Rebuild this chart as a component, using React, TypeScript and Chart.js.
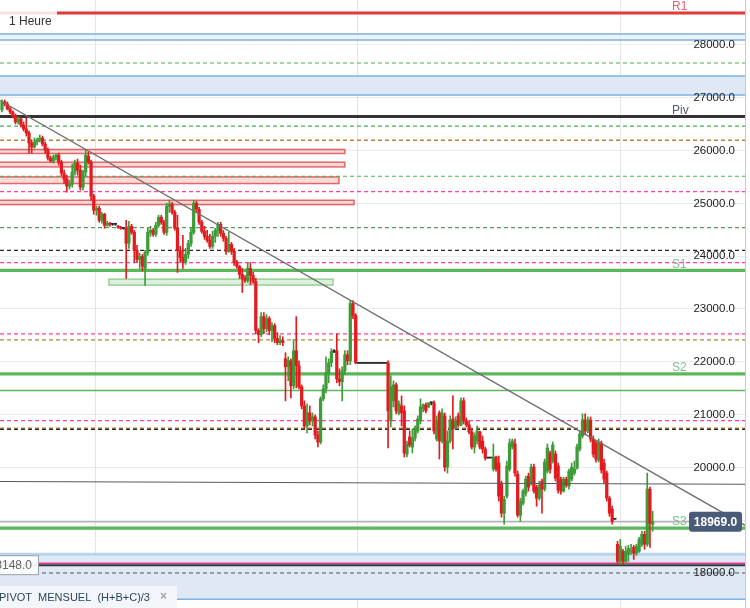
import React, { useEffect, useRef } from 'react';
import { Chart, registerables } from 'chart.js';
Chart.register(...registerables);

// ---- candle data (hourly) ----
const opens = [
  26770, 26922, 26884, 26789, 26732, 26656, 26542, 26599, 26485, 26409,
  26333, 26143, 26067, 26162, 26200, 26238, 26124, 26010, 25858, 25801,
  25877, 25915, 25782, 25573, 25459, 25326, 25364, 25592, 25763, 25630,
  25307, 25592, 25896, 25782, 25136, 24870, 24908, 24680, 24794, 24585,
  24623, 24604, 24604, 24566, 24547, 24528, 24528, 24243, 24566, 24452,
  24110, 23939, 23996, 23768, 24072, 24452, 24490, 24414, 24585, 24737,
  24642, 24452, 24946, 24984, 24832, 24528, 24110, 23977, 23882, 24034,
  24243, 24452, 25003, 24889, 24642, 24471, 24376, 24300, 24186, 24376,
  24490, 24604, 24433, 24338, 24091, 24224, 24091, 23882, 23806, 23654,
  23578, 23540, 23768, 23635, 23521, 22590, 22514, 22856, 22628, 22818,
  22590, 22685, 22438, 22362, 22400, 22058, 21906, 22020, 21545, 22210,
  21925, 21526, 21165, 20785, 21032, 20880, 20956, 20614, 20481, 21298,
  21488, 21792, 21982, 22191, 22210, 21678, 21621, 21830, 22134, 22020,
  23103, 22875, 21970, 21970, 21970, 21970, 21970, 21970, 21970, 21970,
  21970, 21970, 21970, 21982, 20880, 21260, 21564, 21032, 21165, 21070,
  20253, 20576, 20386, 20557, 20690, 20880, 21108, 21184, 21146, 21222,
  21222, 20538, 21032, 20500, 20975, 20006, 20500, 20918, 20747, 20975,
  20804, 21260, 20880, 20804, 20671, 20386, 20500, 20671, 20500, 20348,
  20177, 20177, 19968, 20196, 20082, 19702, 19132, 19455, 19968, 20386,
  20443, 19873, 19094, 19322, 19512, 19835, 19702, 20006, 19626, 19417,
  19740, 19588, 19930, 20272, 20120, 20253, 20025, 19778, 19550, 19778,
  19645, 19778, 19892, 19987, 20348, 20595, 20899, 20690, 20899, 20538,
  20462, 20139, 20462, 20082, 19892, 19417, 19208, 19018, 18543, 18220,
  18410, 18220, 18353, 18410, 18486, 18372, 18410, 18543, 18733, 18543,
  19588, 18923,
];
const highs = [
  26960, 26960, 26922, 26827, 26751, 26694, 26637, 26618, 26542, 26618,
  26371, 26200, 26238, 26238, 26295, 26276, 26162, 26048, 25896, 25915,
  25934, 25953, 25820, 25630, 25535, 25440, 25744, 25820, 25839, 25725,
  25630, 26010, 25972, 25820, 25174, 24946, 24946, 24832, 24813, 24661,
  24642, 24623, 24623, 24585, 24566, 24547, 24680, 24661, 24604, 24490,
  24205, 24053, 24034, 24110, 24528, 24566, 24528, 24642, 24775, 24775,
  24680, 25003, 25060, 25022, 24870, 24775, 24186, 24395, 24148, 24300,
  24528, 25060, 25041, 24927, 24680, 24566, 24490, 24414, 24471, 24528,
  24642, 24642, 24490, 24376, 24452, 24262, 24148, 23920, 23825, 23768,
  23635, 23882, 23882, 23692, 23578, 22628, 22932, 22932, 22894, 22856,
  22742, 22723, 22552, 22495, 22476, 22172, 22096, 22058, 22419, 22856,
  22020, 21564, 21260, 21203, 21165, 21032, 20994, 20690, 21336, 21564,
  22096, 22058, 22248, 22229, 22533, 21868, 21906, 22210, 22210, 23160,
  23160, 22913, 21970, 21970, 21970, 21970, 21970, 21970, 21970, 21970,
  21970, 21970, 21970, 22020, 21735, 21640, 21602, 21260, 21355, 21165,
  20500, 20690, 20728, 20785, 20975, 21298, 21203, 21222, 21222, 21241,
  21260, 20975, 21070, 21108, 21032, 20690, 20975, 21355, 20956, 21032,
  21317, 21317, 20937, 20880, 20728, 20652, 20785, 20690, 20595, 20386,
  20177, 20177, 20443, 20215, 20215, 19740, 19455, 20120, 20538, 20538,
  20538, 19930, 19417, 19588, 19835, 19892, 20063, 20063, 19664, 19740,
  19778, 20158, 20443, 20310, 20481, 20310, 20082, 19816, 19816, 19816,
  19968, 20082, 20120, 20443, 20690, 21013, 21013, 20956, 20956, 20595,
  20500, 20538, 20500, 20158, 19930, 19455, 19265, 19018, 18600, 18638,
  18448, 18505, 18524, 18543, 18524, 18543, 18676, 18790, 18790, 19892,
  19626, 19170,
];
const lows = [
  26732, 26846, 26770, 26694, 26618, 26504, 26504, 26447, 26371, 26276,
  25953, 25953, 26048, 26105, 26162, 26086, 25953, 25820, 25782, 25763,
  25820, 25725, 25516, 25383, 25212, 25269, 25307, 25535, 25535, 25250,
  25250, 25516, 25744, 25060, 24794, 24775, 24642, 24623, 24528, 24566,
  24566, 24585, 24585, 24528, 24509, 24509, 23578, 24148, 24414, 23882,
  23882, 23768, 23730, 23445, 24015, 24376, 24376, 24376, 24547, 24604,
  24414, 24395, 24832, 24794, 24490, 23692, 23882, 23768, 23844, 23958,
  24186, 24414, 24832, 24604, 24433, 24319, 24262, 24148, 24148, 24262,
  24376, 24376, 24281, 24034, 24072, 24034, 23825, 23768, 23578, 23312,
  23502, 23502, 23464, 23483, 22533, 22362, 22476, 22533, 22571, 22514,
  22381, 22362, 22324, 22324, 22305, 21260, 21640, 21317, 21488, 21507,
  21488, 21108, 20728, 20652, 20804, 20785, 20538, 20386, 20443, 21260,
  21412, 21602, 21906, 22172, 21602, 21545, 21260, 21754, 21944, 21944,
  22818, 21963, 21970, 21970, 21970, 21970, 21970, 21970, 21970, 21970,
  21970, 21970, 21970, 20367, 20766, 21146, 21013, 20994, 20785, 20196,
  20196, 20386, 20272, 20500, 20652, 20823, 21051, 21032, 21127, 21184,
  20633, 20500, 20158, 20462, 19930, 19892, 20462, 20348, 20728, 20766,
  20785, 20823, 20766, 20633, 20348, 20272, 20443, 20348, 20272, 20139,
  20177, 20177, 19930, 19930, 19360, 19056, 18923, 19417, 19930, 20348,
  19835, 19056, 18980, 19284, 19455, 19550, 19664, 19512, 19265, 19379,
  19132, 19550, 19892, 19892, 20082, 19740, 19512, 19493, 19531, 19626,
  19588, 19740, 19854, 19968, 20310, 20557, 20614, 20652, 20481, 20196,
  20101, 20101, 19892, 19702, 19360, 19075, 18923, 19018, 18163, 18163,
  18163, 18163, 18220, 18353, 18258, 18334, 18391, 18505, 18448, 18505,
  18486, 18790,
];
const closes = [
  26922, 26884, 26789, 26732, 26656, 26542, 26599, 26485, 26409, 26333,
  26143, 26067, 26162, 26200, 26238, 26124, 26010, 25858, 25801, 25877,
  25915, 25782, 25573, 25459, 25326, 25364, 25592, 25763, 25630, 25307,
  25592, 25915, 25782, 25136, 24870, 24908, 24680, 24794, 24585, 24623,
  24604, 24604, 24604, 24547, 24528, 24528, 24243, 24566, 24452, 24110,
  23939, 23996, 23806, 24072, 24452, 24490, 24414, 24585, 24737, 24642,
  24452, 24946, 24984, 24832, 24528, 24110, 23977, 23882, 24034, 24243,
  24452, 25003, 24889, 24642, 24471, 24376, 24300, 24186, 24376, 24490,
  24604, 24433, 24338, 24091, 24224, 24091, 23882, 23806, 23654, 23578,
  23540, 23768, 23635, 23521, 22590, 22514, 22856, 22628, 22818, 22590,
  22685, 22438, 22362, 22400, 22362, 21906, 22020, 21545, 22210, 21925,
  21526, 21165, 20785, 21032, 20880, 20956, 20614, 20481, 21298, 21488,
  21792, 21982, 22191, 22191, 21678, 21621, 21830, 22134, 22020, 23103,
  22875, 21982, 21970, 21970, 21970, 21970, 21970, 21970, 21970, 21970,
  21970, 21970, 21970, 21070, 21526, 21564, 21070, 21203, 21032, 20272,
  20443, 20424, 20557, 20728, 20918, 21146, 21184, 21070, 21222, 21222,
  20690, 20880, 20500, 21032, 20006, 20500, 20880, 20728, 20880, 20804,
  21260, 20880, 20804, 20671, 20386, 20595, 20690, 20386, 20348, 20177,
  20177, 20177, 20196, 19968, 19455, 19132, 19398, 20025, 20462, 20500,
  19892, 19094, 19360, 19550, 19778, 19626, 20006, 19550, 19417, 19664,
  19588, 20101, 20367, 19968, 20424, 19797, 19569, 19550, 19778, 19664,
  19930, 20006, 19968, 20386, 20633, 20899, 20690, 20899, 20538, 20253,
  20158, 20462, 19949, 19778, 19417, 19132, 18980, 19018, 18220, 18505,
  18220, 18410, 18467, 18429, 18372, 18505, 18638, 18733, 18543, 19588,
  18942, 18969,
];

// ---- axis tick values ----
const yTickValues = [18000, 19000, 20000, 21000, 22000, 23000, 24000, 25000, 26000, 27000, 28000];

// ---- levels (price values) ----
const R1 = 28607;
const PIV = 26647;
const S1 = 23731;
const S2 = 21771;
const S3 = 18849;
const LAST_PRICE = 18969;
const MONTHLY_LOW_LINE = 18148;
const PINK_SOLID = 18184;
const GREEN_THIN = 21454;
const greenDashed = [27659, 26463, 25514];
const darkGreenDashed = [24541];
const pinkDashed = [25224, 23877, 22529, 20885];
const brownDashed = [26197, 22416, 20740];
const blackDashed = [24110, 20720];
const greyDashed = [18000];
const blueZones: [number, number][] = [[28209, 28095], [27412, 27051], [18355, 17501]];
// [top, bottom, end index]
const redZones: [number, number, number][] = [
  [26021, 25945, 127], [25780, 25691, 127], [25501, 25376, 124.8], [25059, 24977, 130.4],
];
// [top, bottom, start index, end index]
const greenZone: [number, number, number, number] = [23566, 23452, 39.6, 122.6];
const trendDown = [{ x: -0.74, y: 26947 }, { x: 275.2, y: 18902 }];
const trendFlat = [{ x: -0.74, y: 19733 }, { x: 275.2, y: 19680 }];
const dayBreaks = [34.4, 131.5, 228.9];

const X_MIN = -0.74;
const X_MAX = 275.2;
const Y_MIN = 17337;
const Y_MAX = 28852;

const RED = '#e31b1f';
const GREEN = '#3d9c37';
const DOJI = '#2a2a2a';
const colors = opens.map((o, i) => (closes[i] > o ? GREEN : closes[i] < o ? RED : DOJI));
const bodies = opens.map((o, i) => ({ x: i, y: [o, closes[i]] }));
const wicks = opens.map((_, i) => ({ x: i, y: [lows[i], highs[i]] }));

const FONT = 'Arial, "Liberation Sans", sans-serif';

const levelsPlugin = {
  id: 'levels',
  beforeDatasetsDraw(chart: any) {
    const { ctx, chartArea: a, scales } = chart;
    const xs = scales.x;
    const ys = scales.y;
    ctx.save();
    ctx.beginPath();
    ctx.rect(a.left, a.top, a.right - a.left, a.bottom - a.top);
    ctx.clip();

    // vertical day separators
    ctx.strokeStyle = '#e4e4e4';
    ctx.lineWidth = 1;
    dayBreaks.forEach((d) => {
      const px = Math.round(xs.getPixelForValue(d)) + 0.5;
      ctx.beginPath();
      ctx.moveTo(px, a.top);
      ctx.lineTo(px, a.bottom);
      ctx.stroke();
    });

    const hline = (v: number, color: string, w: number, dash: number[] = [], x0 = a.left, x1 = a.right) => {
      const py = ys.getPixelForValue(v);
      ctx.save();
      ctx.strokeStyle = color;
      ctx.lineWidth = w;
      ctx.setLineDash(dash);
      ctx.beginPath();
      ctx.moveTo(x0, py);
      ctx.lineTo(x1, py);
      ctx.stroke();
      ctx.restore();
    };

    // blue zones
    blueZones.forEach(([t, b], i) => {
      const pt = ys.getPixelForValue(t);
      const pb = ys.getPixelForValue(b);
      ctx.fillStyle = i === 0 ? 'rgba(225,236,248,0.6)' : '#dfe9f6';
      ctx.fillRect(a.left, pt, a.right - a.left, pb - pt);
      hline(t, i === 2 ? '#b9d4ee' : '#7db0e2', i === 2 ? 3 : 1.5);
      hline(b, '#7db0e2', 1.5);
    });

    // red zones
    redZones.forEach(([t, b, end]) => {
      const pt = ys.getPixelForValue(t);
      const pb = ys.getPixelForValue(b);
      const px = xs.getPixelForValue(end);
      ctx.fillStyle = 'rgba(246,160,160,0.4)';
      ctx.fillRect(a.left - 2, pt, px - a.left + 2, pb - pt);
      ctx.strokeStyle = 'rgba(222,80,80,0.85)';
      ctx.lineWidth = 1.5;
      ctx.strokeRect(a.left - 2, pt, px - a.left + 2, pb - pt);
    });

    // green zone
    {
      const [t, b, s, e] = greenZone;
      const pt = ys.getPixelForValue(t);
      const pb = ys.getPixelForValue(b);
      const p0 = xs.getPixelForValue(s);
      const p1 = xs.getPixelForValue(e);
      ctx.fillStyle = 'rgba(140,205,140,0.3)';
      ctx.fillRect(p0, pt, p1 - p0, pb - pt);
      ctx.strokeStyle = 'rgba(100,180,100,0.6)';
      ctx.lineWidth = 1.5;
      ctx.strokeRect(p0, pt, p1 - p0, pb - pt);
    }

    // dashed levels
    greenDashed.forEach((v) => hline(v, '#4caf50', 1.2, [4, 3]));
    darkGreenDashed.forEach((v) => hline(v, '#5a9a5a', 1.2, [4, 3]));
    pinkDashed.forEach((v) => hline(v, '#ff3fa6', 1.2, [4, 3]));
    brownDashed.forEach((v) => hline(v, '#b8843a', 1.4, [4, 3]));
    blackDashed.forEach((v) => hline(v, '#262626', 1.4, [4, 3]));
    greyDashed.forEach((v) => hline(v, '#555', 1, [4, 3]));

    // solid levels
    hline(R1, 'rgba(240,150,150,0.7)', 4);
    hline(R1, '#e33a3a', 2.4);
    hline(PIV, '#333', 3);
    [S1, S2, S3].forEach((v) => hline(v, '#5cb75c', 3.2));
    hline(GREEN_THIN, '#5cb75c', 1.5);
    hline(PINK_SOLID, '#e2399a', 1.5);
    hline(MONTHLY_LOW_LINE, '#333', 2);
    hline(LAST_PRICE, '#b4b4b4', 1.5, [], a.left, 690);
    ctx.restore();
  },
  afterDraw(chart: any) {
    const { ctx, scales } = chart;
    const ys = scales.y;
    ctx.save();
    ctx.textBaseline = 'middle';
    // level names
    ctx.font = `12px ${FONT}`;
    ctx.textAlign = 'left';
    const label = (t: string, v: number, c: string) => {
      ctx.fillStyle = c;
      ctx.fillText(t, 672, ys.getPixelForValue(v) - 6);
    };
    label('R1', R1, '#e8646c');
    label('Piv', PIV, '#4f6070');
    label('S1', S1, '#7fbf8e');
    label('S2', S2, '#7fbf8e');
    label('S3', S3, '#7fbf8e');

    // last price tag
    const py = ys.getPixelForValue(LAST_PRICE);
    ctx.fillStyle = '#4a5b78';
    ctx.beginPath();
    (ctx as any).roundRect(689, py - 10, 53, 20, 3);
    ctx.fill();
    ctx.fillStyle = '#ffffff';
    ctx.textAlign = 'center';
    ctx.font = `bold 12px ${FONT}`;
    ctx.fillText(LAST_PRICE.toFixed(1), 715.5, py + 0.5);

    // monthly low tag (partly cut at left)
    const pl = ys.getPixelForValue(MONTHLY_LOW_LINE);
    ctx.fillStyle = 'rgba(255,255,255,0.92)';
    ctx.fillRect(-2, pl - 9.5, 41, 19);
    ctx.strokeStyle = '#9aa0a6';
    ctx.lineWidth = 1;
    ctx.strokeRect(-2.5, pl - 9.5, 41, 19);
    ctx.fillStyle = '#666';
    ctx.textAlign = 'right';
    ctx.font = `12px ${FONT}`;
    ctx.fillText(MONTHLY_LOW_LINE.toFixed(1), 32, pl + 0.5);

    // timeframe label
    ctx.fillStyle = 'rgba(255,255,255,0.85)';
    ctx.fillRect(0, 5, 57, 26);
    ctx.fillStyle = '#333';
    ctx.textAlign = 'left';
    ctx.font = `12px ${FONT}`;
    ctx.fillText('1 Heure', 9, 21.5);

    // indicator label at the bottom
    ctx.fillStyle = '#f3f6fa';
    ctx.fillRect(0, 586, 177, 22);
    ctx.fillStyle = '#2d4260';
    ctx.font = `11px ${FONT}`;
    ctx.fillText('PIVOT  MENSUEL  (H+B+C)/3', -1, 597.5);
    ctx.fillStyle = '#a0a4a8';
    ctx.font = `bold 12px ${FONT}`;
    ctx.fillText('\u00d7', 160, 597);
    ctx.restore();
  },
};

export default function App() {
  const ref = useRef<HTMLCanvasElement>(null);
  useEffect(() => {
    if (!ref.current) return;
    const chart = new Chart(ref.current, {
      type: 'bar',
      data: {
        datasets: [
          {
            type: 'line',
            data: trendDown,
            borderColor: '#6f6f6f',
            borderWidth: 1.3,
            pointRadius: 0,
            order: 0,
          } as any,
          {
            type: 'line',
            data: trendFlat,
            borderColor: '#5a5a5a',
            borderWidth: 1.1,
            pointRadius: 0,
            order: 0,
          } as any,
          {
            type: 'bar',
            data: wicks,
            backgroundColor: colors,
            barThickness: 1,
            grouped: false,
            order: 2,
          } as any,
          {
            type: 'bar',
            data: bodies,
            backgroundColor: colors,
            barThickness: 2.6,
            minBarLength: 1,
            grouped: false,
            order: 1,
          } as any,
        ],
      },
      options: {
        responsive: false,
        animation: false,
        devicePixelRatio: 1,
        layout: { padding: { right: 5, left: 0, top: 0, bottom: 0 } },
        plugins: { legend: { display: false }, tooltip: { enabled: false } },
        scales: {
          x: { type: 'linear', display: false, min: X_MIN, max: X_MAX, offset: false },
          y: {
            position: 'right',
            min: Y_MIN,
            max: Y_MAX,
            afterBuildTicks: (s: any) => {
              s.ticks = yTickValues.map((v) => ({ value: v }));
            },
            afterFit: (s: any) => {
              s.width = 0;
              s.paddingTop = 0;
              s.paddingBottom = 0;
            },
            grid: { color: '#ebebeb', drawTicks: false },
            border: { color: '#c8c8c8' },
            ticks: {
              mirror: true,
              padding: -10,
              color: '#222',
              font: { family: FONT, size: 11.5 },
              callback: (v: any) => Number(v).toFixed(1),
              z: 1,
            },
          },
        },
      } as any,
      plugins: [levelsPlugin],
    });
    return () => chart.destroy();
  }, []);
  return (
    <div style={{ position: 'fixed', left: 0, top: 0, width: 750, height: 608, background: '#fff', overflow: 'hidden' }}>
      <canvas ref={ref} width={750} height={608} style={{ display: 'block', width: 750, height: 608 }} />
    </div>
  );
}
